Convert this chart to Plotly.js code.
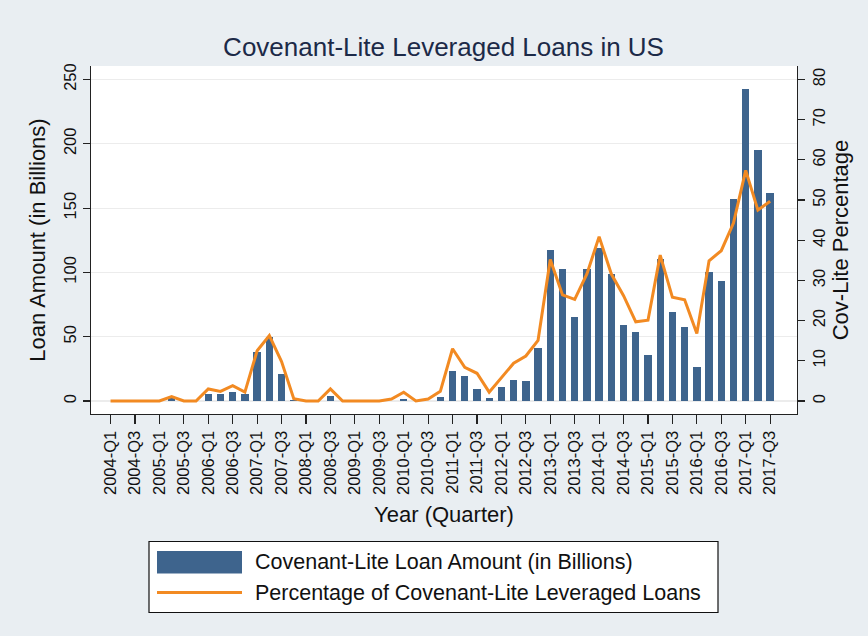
<!DOCTYPE html>
<html>
<head>
<meta charset="utf-8">
<script src="https://cdn.plot.ly/plotly-3.0.1.min.js"></script>
<style>html,body{margin:0;padding:0;background:#e9eef2;}#chart{width:868px;height:636px;}</style>
</head>
<body>
<div id="chart"></div>
<script>
const quarters = [
  "2004-Q1","2004-Q2","2004-Q3","2004-Q4",
  "2005-Q1","2005-Q2","2005-Q3","2005-Q4",
  "2006-Q1","2006-Q2","2006-Q3","2006-Q4",
  "2007-Q1","2007-Q2","2007-Q3","2007-Q4",
  "2008-Q1","2008-Q2","2008-Q3","2008-Q4",
  "2009-Q1","2009-Q2","2009-Q3","2009-Q4",
  "2010-Q1","2010-Q2","2010-Q3","2010-Q4",
  "2011-Q1","2011-Q2","2011-Q3","2011-Q4",
  "2012-Q1","2012-Q2","2012-Q3","2012-Q4",
  "2013-Q1","2013-Q2","2013-Q3","2013-Q4",
  "2014-Q1","2014-Q2","2014-Q3","2014-Q4",
  "2015-Q1","2015-Q2","2015-Q3","2015-Q4",
  "2016-Q1","2016-Q2","2016-Q3","2016-Q4",
  "2017-Q1","2017-Q2","2017-Q3"
];
const loanAmount = [
  0, 0, 0, 0,
  0, 2, 0, 0,
  5.5, 5.5, 7, 5.5,
  38, 50, 21, 1,
  0, 0, 3.6, 0,
  0, 0, 0, 0,
  1.5, 0, 0, 3.1,
  23, 19.2, 9.6, 2.6,
  11.1, 16, 15.6, 41,
  117.8, 102.3, 65.4, 102.3,
  118.8, 98.9, 58.9, 53.4,
  35.5, 110.8, 69.3, 57.6,
  26.5, 100.2, 93.2, 156.8,
  243, 195.2, 162
];
const covLitePct = [
  0, 0, 0, 0,
  0, 1.1, 0, 0,
  3.0, 2.4, 3.8, 2.2,
  12.5, 16.3, 9.8, 0.6,
  0, 0, 3.0, 0,
  0, 0, 0, 0.5,
  2.2, 0, 0.5, 2.4,
  13, 8.4, 6.9, 2.2,
  5.7, 9.4, 11.2, 15.1,
  35.2, 26.4, 25.3, 31.6,
  40.9, 31.6, 26.2, 19.7,
  20.1, 36.3, 25.8, 25.2,
  16.8, 34.9, 37.4, 44.3,
  57.4, 47.5, 49.7
];
const seriesNames = ["Covenant-Lite Loan Amount (in Billions)", "Percentage of Covenant-Lite Leveraged Loans"];
const tickLabels = quarters.filter((q, i) => i % 2 === 0);
const leftTicks = [0, 50, 100, 150, 200, 250];
const rightTicks = [0, 10, 20, 30, 40, 50, 60, 70, 80];

const barColor = "#3e648d";
const lineColor = "#f28a22";
const font = "Liberation Sans, Arial, sans-serif";

// plot-area geometry in pixels (for converting the legend box into paper coordinates)
const W = 868, H = 636, mL = 91, mR = 71, mT = 66, mB = 222;
const pw = W - mL - mR, ph = H - mT - mB;
const px = v => (v - mL) / pw;
const py = v => (H - mB - v) / ph;

const traces = [
  {
    type: "bar", x: quarters, y: loanAmount, name: seriesNames[0],
    marker: {color: barColor, line: {width: 0}}, width: 0.6, yaxis: "y"
  },
  {
    type: "scatter", mode: "lines", x: quarters, y: covLitePct, name: seriesNames[1],
    line: {color: lineColor, width: 3}, yaxis: "y2"
  }
];

const shapes = [
  {type: "rect", xref: "paper", yref: "paper", x0: px(149), x1: px(718), y0: py(612.5), y1: py(541.5),
   line: {color: "#111", width: 1.2}, fillcolor: "#ffffff", layer: "above"},
  {type: "rect", xref: "paper", yref: "paper", x0: px(157), x1: px(242), y0: py(573.5), y1: py(551),
   line: {width: 0}, fillcolor: barColor, layer: "above"},
  {type: "line", xref: "paper", yref: "paper", x0: px(157), x1: px(242), y0: py(592.5), y1: py(592.5),
   line: {color: lineColor, width: 3}, layer: "above"}
];
const annotations = [
  {xref: "paper", yref: "paper", x: px(253), y: py(562), xanchor: "left", yanchor: "middle",
   text: seriesNames[0], showarrow: false, font: {size: 21.5, color: "#111", family: font}},
  {xref: "paper", yref: "paper", x: px(253), y: py(593), xanchor: "left", yanchor: "middle",
   text: seriesNames[1], showarrow: false, font: {size: 21.5, color: "#111", family: font}}
];

const layout = {
  width: W, height: H,
  paper_bgcolor: "#e9eef2", plot_bgcolor: "#ffffff",
  margin: {l: mL, r: mR, t: mT, b: mB, pad: 0},
  font: {family: font, color: "#111", size: 17},
  title: {text: "Covenant-Lite Leveraged Loans in US", font: {size: 26, color: "#1c2a48", family: font}, x: 0.511, xanchor: "center", y: 0.926, yanchor: "middle"},
  bargap: 0,
  showlegend: false,
  xaxis: {
    type: "category", range: [-1.6, 56.2],
    tickmode: "array", tickvals: tickLabels, ticktext: tickLabels,
    tickangle: -90, ticks: "outside", ticklen: 9, tickwidth: 1.2, tickcolor: "#222",
    showline: true, linecolor: "#222", linewidth: 1.2, showgrid: false, zeroline: false,
    tickfont: {size: 16.5, color: "#111"},
    title: {text: "Year (Quarter)", font: {size: 22, color: "#111"}, standoff: 12}
  },
  yaxis: {
    range: [-10.1, 260.5], tickvals: leftTicks,
    ticks: "outside", ticklen: 7, tickwidth: 1.2, tickcolor: "#222",
    showline: true, linecolor: "#222", linewidth: 1.2,
    showgrid: true, gridcolor: "#ececec", gridwidth: 1.2, zeroline: false,
    tickangle: -90, tickfont: {size: 16.5, color: "#111"},
    title: {text: "Loan Amount (in Billions)", font: {size: 22, color: "#111"}, standoff: 9}
  },
  yaxis2: {
    overlaying: "y", side: "right",
    range: [-3.232, 83.36], tickvals: rightTicks,
    ticks: "outside", ticklen: 7, tickwidth: 1.2, tickcolor: "#222",
    showline: true, linecolor: "#222", linewidth: 1.2,
    showgrid: false, zeroline: false,
    tickangle: -90, tickfont: {size: 16.5, color: "#111"},
    title: {text: "Cov-Lite Percentage", font: {size: 22, color: "#111"}, standoff: 5}
  },
  shapes: shapes,
  annotations: annotations
};
Plotly.newPlot("chart", traces, layout, {displayModeBar: false, staticPlot: true});
</script>
</body>
</html>
